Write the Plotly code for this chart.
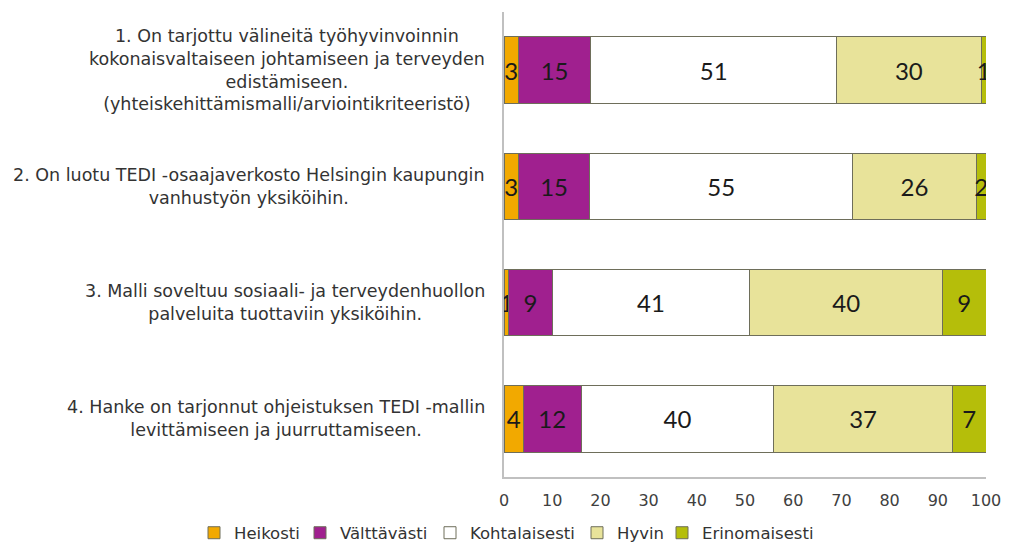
import plotly.graph_objects as go

# Data
questions = [
    "1. On tarjottu välineitä työhyvinvoinnin<br>kokonaisvaltaiseen johtamiseen ja terveyden<br>edistämiseen.<br>(yhteiskehittämismalli/arviointikriteeristö)",
    "2. On luotu TEDI -osaajaverkosto Helsingin kaupungin<br>vanhustyön yksiköihin.",
    "3. Malli soveltuu sosiaali- ja terveydenhuollon<br>palveluita tuottaviin yksiköihin.",
    "4. Hanke on tarjonnut ohjeistuksen TEDI -mallin<br>levittämiseen ja juurruttamiseen.",
]
categories = ["Q1", "Q2", "Q3", "Q4"]
heikosti = [3, 3, 1, 4]
valttavasti = [15, 15, 9, 12]
kohtalaisesti = [51, 55, 41, 40]
hyvin = [30, 26, 40, 37]
erinomaisesti = [1, 2, 9, 7]
x_ticks = [0, 10, 20, 30, 40, 50, 60, 70, 80, 90, 100]

series = [
    ("Heikosti", heikosti, "#F2A900"),
    ("Välttävästi", valttavasti, "#A0208F"),
    ("Kohtalaisesti", kohtalaisesti, "#FFFFFF"),
    ("Hyvin", hyvin, "#E8E39A"),
    ("Erinomaisesti", erinomaisesti, "#B5BE0A"),
]
# left edge (screen px) of each legend entry
legend_x = [194, 300, 430, 577, 662]

LABEL_FONT = "DejaVu Sans"
TEXT = "#333333"
W, H = 1003, 535  # page has an 8px body margin

fig = go.Figure()
legend_layout = {}
for k, (name, vals, color) in enumerate(series):
    lg = "legend" if k == 0 else f"legend{k + 1}"
    fig.add_trace(go.Bar(
        y=categories,
        x=vals,
        name=name,
        orientation="h",
        legend=lg,
        marker=dict(color=color, line=dict(color="#6E6E5A", width=1)),
        text=vals,
        texttemplate="%{text}",
        textposition="inside",
        insidetextanchor="middle",
        textangle=0,
        textfont=dict(family="Lato", size=24, color="#1A1A1A"),
    ))
    legend_layout[lg] = dict(
        x=(legend_x[k] - 8) / W, xref="container", xanchor="left",
        y=10 / H, yref="container", yanchor="middle",
        font=dict(family=LABEL_FONT, size=16.5, color=TEXT),
        itemwidth=30, bgcolor="rgba(0,0,0,0)",
    )

# multi-line category labels, lines centred, block right-aligned at the axis
for cat, q in zip(categories, questions):
    fig.add_annotation(
        x=-0.035, xref="paper", y=cat, yref="y",
        text=q, showarrow=False, xanchor="right", yanchor="middle",
        align="center",
        font=dict(family=LABEL_FONT, size=17.5, color=TEXT),
    )

fig.update_layout(
    barmode="stack",
    barnorm="percent",
    bargap=0.43,
    width=W, height=H,
    paper_bgcolor="white", plot_bgcolor="white",
    margin=dict(l=496, r=25, t=4, b=66, autoexpand=False),
    uniformtext=dict(minsize=24, mode="show"),
    font=dict(family=LABEL_FONT, color=TEXT),
    showlegend=True,
    **legend_layout,
)
fig.update_xaxes(
    range=[0, 100], tickvals=x_ticks, showgrid=False, zeroline=False,
    showline=True, linecolor="#C0C0C0", linewidth=1.5,
    tickfont=dict(family=LABEL_FONT, size=16, color="#404040"),
    ticks="", ticklabelstandoff=8,
)
fig.update_yaxes(
    autorange="reversed", showticklabels=False, showgrid=False,
    showline=True, linecolor="#C0C0C0", linewidth=1.5, ticks="",
)

fig.write_html("out.html")
